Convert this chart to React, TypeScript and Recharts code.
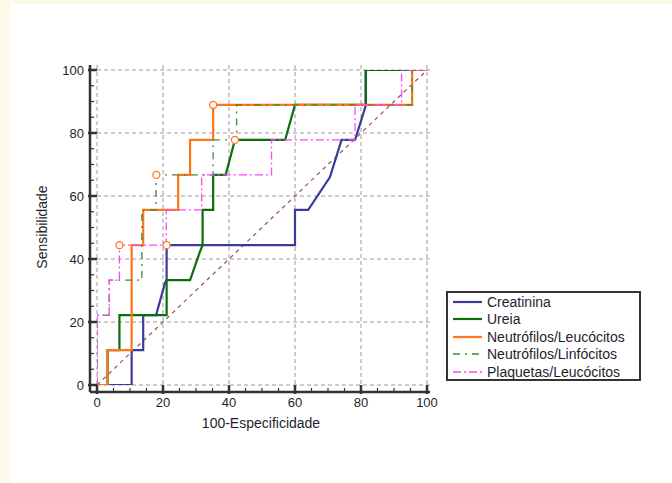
import React from 'react';
import { ComposedChart, Line, Scatter, XAxis, YAxis, CartesianGrid, Legend } from 'recharts';

// ROC curves, points as [100-specificity, sensitivity]
const CREATININA = [
  [0, 0], [10.5, 0], [10.5, 11.1], [14, 11.1], [14, 22.2], [17.9, 22.2], [20.6, 32.4], [21.1, 33.3],
  [21.1, 44.4], [60, 44.4], [60, 55.6], [64, 55.6], [70.6, 66], [74.1, 77.8], [78.2, 77.8],
  [81.5, 88.9], [81.5, 100], [100, 100],
];
const UREIA = [
  [0, 0], [3.2, 0], [3.2, 11.1], [6.8, 11.1], [6.8, 22.2], [21.1, 22.2], [21.1, 33.3], [28.2, 33.3],
  [31.2, 42.3], [32, 44.4], [32, 55.6], [35.2, 55.6], [35.2, 66.7], [39, 66.7], [41.8, 77.8],
  [57, 77.8], [60, 88.9], [81.4, 88.9], [81.4, 100], [100, 100],
];
const NEUT_LEUC = [
  [0, 0], [3.2, 0], [3.2, 11.1], [10.5, 11.1], [10.5, 44.4], [14, 44.4], [14, 55.6], [24.6, 55.6],
  [24.6, 66.7], [28.2, 66.7], [28.2, 77.8], [35.2, 77.8], [35.2, 88.9], [95.5, 88.9], [95.5, 100],
  [100, 100],
];
const NEUT_LINF = [
  [0, 0], [0, 22.2], [3.7, 22.2], [3.7, 33.3], [13.6, 33.3], [13.6, 55.6], [17.9, 55.6], [17.9, 66.7],
  [35.2, 66.7], [35.2, 77.8], [42.3, 77.8], [42.3, 88.9], [95.5, 88.9], [95.5, 100], [100, 100],
];
const PLAQ_LEUC = [
  [0, 0], [0, 22.2], [3.7, 22.2], [3.7, 33.3], [6.8, 33.3], [6.8, 44.4], [21, 44.4], [21, 55.6],
  [31.7, 55.6], [31.7, 66.7], [52.9, 66.7], [52.9, 77.8], [78.2, 77.8], [78.2, 88.9], [92.3, 88.9],
  [92.3, 100], [100, 100],
];
const DIAGONAL = [[0, 0], [100, 100]];
// optimal criterion points
const CRITERIA = [[35.2, 88.9], [41.8, 77.8], [18, 66.7], [6.8, 44.4], [21.1, 44.4]];

const AXIS_TICKS = [0, 5, 10, 15, 20, 25, 30, 35, 40, 45, 50, 55, 60, 65, 70, 75, 80, 85, 90, 95, 100];
const GRID_VALUES = [0, 20, 40, 60, 80, 100];

const toPoints = (arr: number[][]) => arr.map(([x, y]) => ({ x, y }));

const SERIES = [
  { name: 'Creatinina', data: CREATININA, color: '#3b3b9e', width: 2.2, dash: undefined },
  { name: 'Ureia', data: UREIA, color: '#0b6e0b', width: 2.2, dash: undefined },
  { name: 'Neutrófilos/Leucócitos', data: NEUT_LEUC, color: '#ff7518', width: 2.2, dash: undefined },
  { name: 'Neutrófilos/Linfócitos', data: NEUT_LINF, color: '#3d8a3d', width: 1.3, dash: '7 5 2 5' },
  { name: 'Plaquetas/Leucócitos', data: PLAQ_LEUC, color: '#ff44ff', width: 1.3, dash: '8 3 2 3' },
];

const FONT = '"Liberation Sans", Arial, sans-serif';
const AXIS = '#333';
const TEXT = '#1e1e2e';

const XTick = (props: any) => {
  const { x, y, payload } = props;
  const major = payload.value % 20 === 0;
  return (
    <g>
      <line x1={x} x2={x} y1={y + (major ? 2 : 0)} y2={y - (major ? 7 : 4)} stroke={AXIS} strokeWidth={major ? 2.5 : 1.2} />
      {major && (
        <text x={x} y={y + 15} textAnchor="middle" fontSize={13} fontFamily={FONT} fill={TEXT}>
          {payload.value}
        </text>
      )}
    </g>
  );
};

const YTick = (props: any) => {
  const { x, y, payload } = props;
  const major = payload.value % 20 === 0;
  return (
    <g>
      <line x1={x - (major ? 2 : 0)} x2={x + (major ? 7 : 4)} y1={y} y2={y} stroke={AXIS} strokeWidth={major ? 2.5 : 1.2} />
      {major && (
        <text x={x - 6} y={y + 4.5} textAnchor="end" fontSize={13} fontFamily={FONT} fill={TEXT}>
          {payload.value}
        </text>
      )}
    </g>
  );
};

const LegendBox = () => (
  <div
    style={{
      width: 191,
      height: 86,
      border: '2px solid #333',
      background: '#fff',
      boxSizing: 'content-box',
      fontFamily: FONT,
      fontSize: 14,
      color: TEXT,
    }}
  >
    {SERIES.map((s) => (
      <div key={s.name} style={{ display: 'flex', alignItems: 'center', height: 17.5 }}>
        <svg width={36} height={10} style={{ marginLeft: 3 }}>
          <line x1={2} x2={31} y1={5} y2={5} stroke={s.color} strokeWidth={s.dash ? 1.3 : 2.2} strokeDasharray={s.dash} />
        </svg>
        <span style={{ whiteSpace: 'nowrap' }}>{s.name}</span>
      </div>
    ))}
  </div>
);

const Criterion = (props: any) => {
  const { cx, cy } = props;
  return <circle cx={cx} cy={cy} r={3.5} fill="#fff" stroke="#ff7518" strokeWidth={1.3} />;
};

export default function App() {
  return (
    <div style={{ position: 'absolute', left: 0, top: 0, width: 672, height: 483, background: '#fdf9e8' }}>
      <div style={{ position: 'absolute', left: 10, top: 4, width: 662, height: 479, background: '#fff' }} />
      <div style={{ position: 'absolute', left: 0, top: 0 }}>
        <ComposedChart width={672} height={483} margin={{ top: 65, right: 242, bottom: 51, left: 40 }}>
          <CartesianGrid
            stroke="#9a9a9a"
            strokeDasharray="4 3"
            verticalValues={GRID_VALUES}
            horizontalValues={GRID_VALUES}
          />
          <XAxis
            dataKey="x"
            type="number"
            domain={[0, 100]}
            ticks={AXIS_TICKS}
            interval={0}
            padding={{ left: 7, right: 3 }}
            height={40}
            tickSize={0}
            tickMargin={0}
            tickLine={false}
            tick={<XTick />}
            axisLine={{ stroke: AXIS, strokeWidth: 2.5 }}
            allowDataOverflow
            label={{
              content: () => (
                <text x={261} y={428} textAnchor="middle" fontSize={14} fontFamily={FONT} fill={TEXT}>
                  100-Especificidade
                </text>
              ),
            }}
          />
          <YAxis
            dataKey="y"
            type="number"
            domain={[0, 100]}
            ticks={AXIS_TICKS}
            interval={0}
            padding={{ top: 5, bottom: 7 }}
            width={50}
            tickSize={0}
            tickMargin={0}
            tickLine={false}
            tick={<YTick />}
            axisLine={{ stroke: AXIS, strokeWidth: 2.5 }}
            allowDataOverflow
            label={{
              content: () => (
                <text
                  transform="translate(47,227) rotate(-90)"
                  textAnchor="middle"
                  fontSize={14}
                  fontFamily={FONT}
                  fill={TEXT}
                >
                  Sensibilidade
                </text>
              ),
            }}
          />
          <Line
            data={toPoints(DIAGONAL)}
            dataKey="y"
            type="linear"
            stroke="#a8595a"
            strokeWidth={1.3}
            strokeDasharray="4 4"
            dot={false}
            legendType="none"
            isAnimationActive={false}
          />
          {SERIES.map((s) => (
            <Line
              key={s.name}
              name={s.name}
              data={toPoints(s.data)}
              dataKey="y"
              type="linear"
              stroke={s.color}
              strokeWidth={s.width}
              strokeDasharray={s.dash}
              dot={false}
              isAnimationActive={false}
            />
          ))}
          <Scatter data={toPoints(CRITERIA)} dataKey="y" shape={<Criterion />} legendType="none" isAnimationActive={false} />
          <Legend
            layout="vertical"
            align="center"
            verticalAlign="middle"
            content={<LegendBox />}
            wrapperStyle={{ position: 'absolute', left: 446, top: 291, width: 195 }}
          />
        </ComposedChart>
      </div>
    </div>
  );
}
